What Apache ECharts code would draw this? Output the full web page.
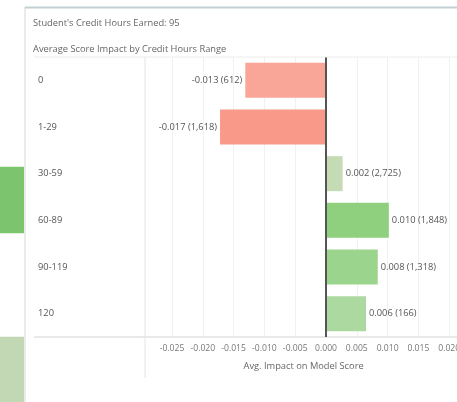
<!DOCTYPE html>
<html>
<head>
<meta charset="utf-8">
<script src="https://cdn.jsdelivr.net/npm/echarts@6/dist/echarts.min.js"></script>
<style>
html,body{margin:0;padding:0;background:#fff;}
#c{width:457px;height:402px;}
</style>
</head>
<body>
<div id="c"></div>
<script>
// ---- data ----
const categories = ['0', '1-29', '30-59', '60-89', '90-119', '120'];
const impacts = [-0.0131, -0.0172, 0.0027, 0.0102, 0.0084, 0.0065];
const impactLabels = ['-0.013', '-0.017', '0.002', '0.010', '0.008', '0.006'];
const counts = ['612', '1,618', '2,725', '1,848', '1,318', '166'];
const barColors = ['#f9a597', '#f8998a', '#c4dbb6', '#8fd07f', '#9bd48c', '#acd9a0'];
const xMin = -0.03, xMax = 0.025, xInterval = 0.005;
// fragment of the neighbouring sheet (left edge)
const sideCategories = ['a', 'b', 'c', 'd', 'e'];
const sideValues = [null, null, 1, null, 1];
const sideColors = ['#7dc46e', '#7dc46e', '#7dc46e', '#c2d8b5', '#c2d8b5'];

const FONT = 'Open Sans';
const FS = 8.6;
const FS_T = 9.3;
const chart = echarts.init(document.getElementById('c'), null, {renderer: 'canvas'});

const pxPerUnit = 6160;
const zeroX = 326;
const gridLeft = zeroX + xMin * pxPerUnit;
const gridWidth = (xMax - xMin) * pxPerUnit;

const option = {
  backgroundColor: '#fff',
  animation: false,
  textStyle: {fontFamily: FONT},
  title: [
    {text: "Student's Credit Hours Earned: 95", left: 33, top: 19, padding: 0,
     textStyle: {fontSize: FS_T, fontWeight: 'normal', color: '#666', fontFamily: FONT}},
    {text: 'Average Score Impact by Credit Hours Range', left: 33, top: 45, padding: 0,
     textStyle: {fontSize: FS_T, fontWeight: 'normal', color: '#666', fontFamily: FONT}}
  ],
  grid: [
    {left: gridLeft, top: 57, width: gridWidth, height: 280, containLabel: false, outerBoundsMode: 'none'},
    {left: -100, top: -12.5, width: 124, height: 425, containLabel: false, outerBoundsMode: 'none'}
  ],
  xAxis: [
    {type: 'value', gridIndex: 0, min: xMin, max: xMax, interval: xInterval,
     axisLine: {show: true, lineStyle: {color: '#e2e2e2', width: 1.5}},
     axisTick: {show: false},
     splitLine: {show: true, lineStyle: {color: '#f1f1f1', width: 1}},
     axisLabel: {fontSize: FS, color: '#777', margin: 7, fontFamily: FONT,
       formatter: v => Math.abs(v - xMin) < 1e-9 ? '' : v.toFixed(3)},
     name: 'Avg. Impact on Model Score', nameLocation: 'middle', nameGap: 25,
     nameTextStyle: {fontSize: FS_T, color: '#666', fontFamily: FONT, padding: [0, 14, 0, 0]}
    },
    {type: 'value', gridIndex: 1, min: 0, max: 1, show: false}
  ],
  yAxis: [
    {type: 'category', gridIndex: 0, data: categories, inverse: true,
     axisLine: {show: false}, axisTick: {show: false}, splitLine: {show: false},
     axisLabel: {align: 'left', margin: gridLeft - 38, fontSize: FS_T, color: '#555', fontFamily: FONT}},
    {type: 'category', gridIndex: 1, data: sideCategories, inverse: true, show: false}
  ],
  series: [
    {
      type: 'bar', xAxisIndex: 0, yAxisIndex: 0, barCategoryGap: '25%',
      data: impacts.map((v, i) => ({
        value: v,
        itemStyle: {color: barColors[i]},
        label: {show: true, position: v < 0 ? 'left' : 'right', distance: 3,
          formatter: impactLabels[i] + ' (' + counts[i] + ')',
          fontSize: FS_T, color: '#555', fontFamily: FONT}
      })),
      markLine: {
        silent: true, symbol: ['none', 'none'], label: {show: false},
        lineStyle: {color: '#555', width: 2, type: 'solid'},
        data: [{xAxis: 0}]
      },
      z: 3
    },
    {
      type: 'bar', xAxisIndex: 1, yAxisIndex: 1, barCategoryGap: '22%',
      data: sideValues.map((v, i) => ({value: v, itemStyle: {color: sideColors[i]}})),
      silent: true
    }
  ],
  graphic: [
    {type: 'rect', shape: {x: gridLeft - 6, y: 56, width: 145 - gridLeft + 5, height: 280}, style: {fill: '#fff'}, z: 100},
    {type: 'line', shape: {x1: 25, y1: 7, x2: 25, y2: 402}, style: {stroke: '#e4e4e4', lineWidth: 1.5}, z: 100},
    {type: 'line', shape: {x1: 25, y1: 7.5, x2: 457, y2: 7.5}, style: {stroke: '#c3d1d5', lineWidth: 2}, z: 100},
    {type: 'line', shape: {x1: 34, y1: 57, x2: 457, y2: 57}, style: {stroke: '#ececec', lineWidth: 1}, z: 100},
    {type: 'line', shape: {x1: 145, y1: 57, x2: 145, y2: 378}, style: {stroke: '#e4e4e4', lineWidth: 1}, z: 100},
    {type: 'line', shape: {x1: 34, y1: 337, x2: gridLeft + 1, y2: 337}, style: {stroke: '#e2e2e2', lineWidth: 1.5}, z: 100}
  ]
};
chart.setOption(option);
</script>
</body>
</html>
